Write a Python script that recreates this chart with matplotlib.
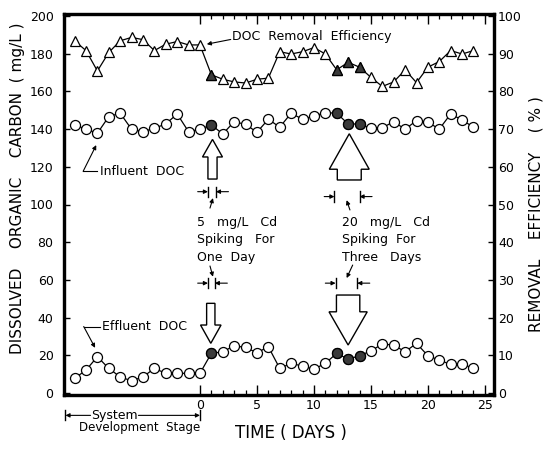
import matplotlib
matplotlib.use('Agg')
import matplotlib.pyplot as plt
from matplotlib.patches import FancyArrow

# ---------------- data ----------------
days = list(range(-11, 25))
influent_doc = [142.2, 139.9, 137.8, 146.6, 148.4, 139.9, 138.6, 140.4, 142.7, 148.0,
                138.6, 139.9, 142.2, 137.4, 143.9, 142.5, 138.3, 145.2, 141.0, 148.4,
                145.2, 146.9, 148.7, 148.4, 142.7, 142.7, 140.4, 140.7, 143.9, 139.9,
                144.5, 143.6, 140.0, 148.0, 144.8, 141.0]
effluent_doc = [7.8, 12.2, 19.3, 13.1, 8.6, 6.5, 8.6, 13.1, 10.5, 10.5,
                10.5, 10.5, 21.1, 21.9, 25.1, 24.2, 21.4, 24.6, 13.1, 15.8,
                14.3, 12.7, 15.8, 21.1, 18.0, 19.8, 22.4, 26.0, 25.5, 21.9,
                26.4, 19.8, 17.5, 15.2, 15.4, 13.1]
removal_eff = [93.4, 90.8, 85.4, 90.3, 93.4, 94.3, 93.7, 90.8, 92.5, 93.2,
               92.3, 92.3, 84.4, 83.2, 82.5, 82.2, 83.2, 83.5, 90.5, 89.9,
               90.5, 91.6, 89.9, 85.7, 87.7, 86.4, 83.7, 81.3, 82.5, 85.7,
               82.3, 86.4, 87.9, 90.8, 89.9, 90.8]
spiked_days = [1, 12, 13, 14]
x_major = [0, 5, 10, 15, 20, 25]
x_minor = list(range(0, 26))
left_ticks = list(range(0, 201, 20))
right_ticks = list(range(0, 101, 10))

plt.rcParams['font.family'] = ['DejaVu Sans']

fig = plt.figure(figsize=(5.47, 4.49), dpi=100)
ax = fig.add_axes([64 / 547, 54 / 449, 430 / 547, 381 / 449])
ax.set_xlim(-11.93, 25.8)
ax.set_ylim(-1, 201)
ax2 = ax.twinx()
ax2.set_ylim(-0.5, 100.5)

FILL = '#3a3a3a'


def series(a, y, marker, ms):
    a.plot(days, y, '-', color='k', lw=0.9, zorder=2)
    a.plot(days, y, linestyle='none', marker=marker, ms=ms, mfc='white',
           mec='k', mew=0.9, zorder=3)
    xs = [d for d in days if d in spiked_days]
    ys = [v for d, v in zip(days, y) if d in spiked_days]
    a.plot(xs, ys, linestyle='none', marker=marker, ms=ms, mfc=FILL,
           mec='k', mew=0.9, zorder=4)


series(ax, influent_doc, 'o', 7.2)
series(ax, effluent_doc, 'o', 7.2)
series(ax2, removal_eff, '^', 7.8)

# ---------------- axes styling ----------------
for a in (ax, ax2):
    for s in a.spines.values():
        s.set_linewidth(2.3)
ax.set_xticks(x_major)
ax.set_xticks(x_minor, minor=True)
ax.set_yticks(left_ticks)
ax2.set_yticks(right_ticks)
ax.tick_params(axis='x', which='major', direction='in', top=True, bottom=True,
               length=7, width=1, labelsize=9, pad=3)
ax.tick_params(axis='x', which='minor', direction='in', top=True, bottom=True,
               length=3.5, width=0.9)
ax.tick_params(axis='y', direction='in', length=4.5, width=1, labelsize=9, pad=7.5)
ax2.tick_params(axis='y', direction='in', length=4.5, width=1, labelsize=9, pad=3)

# ---------------- block arrows ----------------
def block(x, y0, y1, hl, hw, sw):
    ax.add_patch(FancyArrow(x, y0, 0, y1 - y0, width=sw, head_width=hw,
                            head_length=hl, length_includes_head=True,
                            fc='white', ec='k', lw=1.0, zorder=5))

block(1.1, 113.5, 134.5, 9.3, 1.75, 0.8)
block(13.1, 113.0, 137.5, 18.8, 3.5, 2.1)
block(0.95, 47.6, 26.4, 9.7, 1.8, 0.73)
block(13.0, 52.0, 25.5, 17.6, 3.35, 2.05)

# ---------------- span markers ----------------
ap = dict(arrowstyle='-|>', lw=0.8, color='k', mutation_scale=6, shrinkA=0, shrinkB=0)


def span(x0, x1, y):
    ax.plot([x0, x0], [y - 2.7, y + 2.7], color='k', lw=1.0)
    ax.plot([x1, x1], [y - 2.7, y + 2.7], color='k', lw=1.0)
    ax.annotate('', xy=(x0, y), xytext=(x0 - 0.9, y), arrowprops=ap)
    ax.annotate('', xy=(x1, y), xytext=(x1 + 1.1, y), arrowprops=ap)

span(0.7, 1.4, 106.8)
span(11.8, 14.0, 104.2)
span(0.7, 1.3, 58.3)
span(11.9, 13.8, 58.3)

ax.annotate('', xy=(1.14, 103.4), xytext=(0.88, 98.1), arrowprops=ap)
ax.annotate('', xy=(12.87, 102.3), xytext=(13.16, 97.1), arrowprops=ap)
ax.annotate('', xy=(1.14, 61.7), xytext=(0.88, 67.4), arrowprops=ap)
ax.annotate('', xy=(12.87, 61.0), xytext=(13.4, 67.9), arrowprops=ap)

tkw = dict(fontsize=9, ha='left', va='center')
for txt, yy in (('5   mg/L   Cd', 90.2), ('Spiking   For', 81.2), ('One  Day', 72.1)):
    ax.text(-0.3, yy, txt, **tkw)
for txt, yy in (('20   mg/L   Cd', 90.2), ('Spiking  For', 81.2), ('Three   Days', 72.1)):
    ax.text(12.5, yy, txt, **tkw)

# ---------------- labels with leaders ----------------
ax.text(2.8, 189.0, 'DOC  Removal  Efficiency', fontsize=9, ha='left', va='center')
ax.annotate('', xy=(0.6, 185.0), xytext=(2.7, 187.5), arrowprops=ap)

ax.text(-8.8, 117.6, 'Influent  DOC', fontsize=9, ha='left', va='center')
ax.plot([-9.0, -10.25], [117.6, 117.6], color='k', lw=0.8)
ax.annotate('', xy=(-9.1, 131.5), xytext=(-10.25, 117.6), arrowprops=ap)

ax.text(-8.6, 35.3, 'Effluent  DOC', fontsize=9, ha='left', va='center')
ax.plot([-8.8, -10.2], [35.3, 35.3], color='k', lw=0.8)
ax.annotate('', xy=(-9.2, 24.0), xytext=(-10.2, 35.3), arrowprops=ap)

# ---------------- system development stage ----------------
ax.plot([-11.8, -11.8], [-9.2, -14.5], color='k', lw=1.0, clip_on=False)
ax.plot([0, 0], [-9.2, -14.5], color='k', lw=1.0, clip_on=False)
ax.annotate('', xy=(-11.8, -11.8), xytext=(-9.6, -11.8), arrowprops=ap,
            annotation_clip=False)
ax.annotate('', xy=(0, -11.8), xytext=(-5.4, -11.8), arrowprops=ap,
            annotation_clip=False)
ax.text(-7.5, -11.8, 'System', fontsize=9, ha='center', va='center', clip_on=False)
ax.text(-5.3, -18.0, 'Development  Stage', fontsize=8.5, ha='center', va='center',
        clip_on=False)

# ---------------- axis titles ----------------
fig.text(291 / 547, 1 - 433 / 449, 'TIME ( DAYS )', fontsize=12, ha='center', va='center')
fig.text(18 / 547, 1 - 188 / 449, 'DISSOLVED    ORGANIC    CARBON  ( mg/L )',
         fontsize=11, rotation=90, ha='center', va='center')
fig.text(536 / 547, 1 - 214 / 449, 'REMOVAL    EFFICIENCY    ( % )',
         fontsize=11, rotation=90, ha='center', va='center')

fig.savefig('out.png', dpi=100)
